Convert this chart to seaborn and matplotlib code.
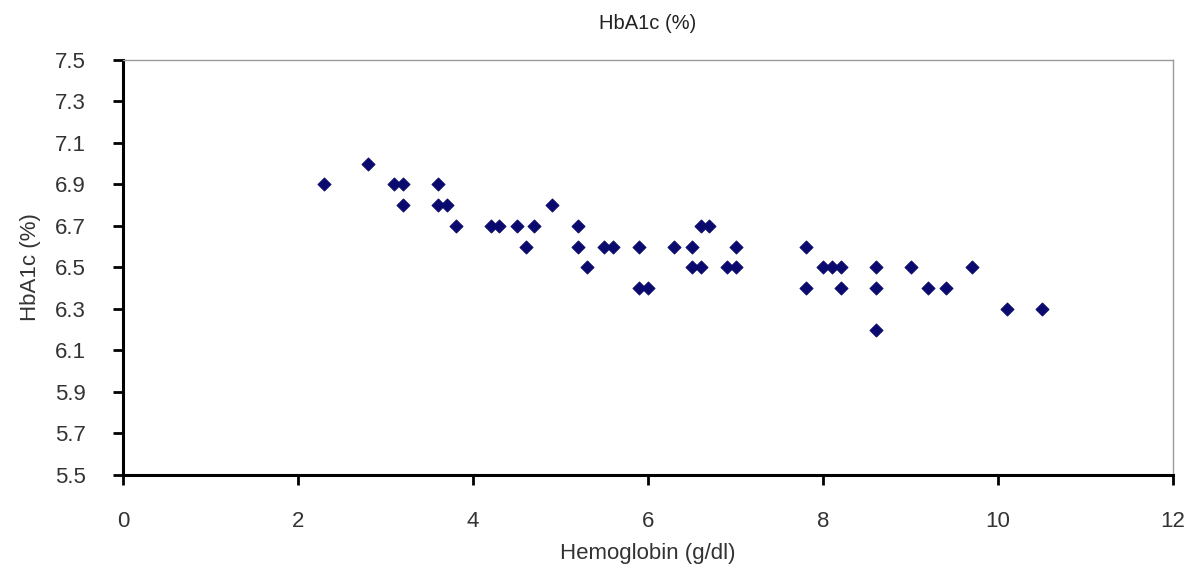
import matplotlib
matplotlib.use("Agg")
import matplotlib.pyplot as plt
import seaborn as sns
import pandas as pd

hemoglobin = [2.3, 2.8, 3.1, 3.2, 3.2, 3.6, 3.6, 3.7, 3.8, 4.2, 4.3, 4.5, 4.6, 4.7,
              4.9, 5.2, 5.2, 5.3, 5.5, 5.6, 5.9, 5.9, 6.0, 6.3, 6.5, 6.5, 6.6, 6.6,
              6.7, 6.9, 7.0, 7.0, 7.8, 7.8, 8.0, 8.1, 8.2, 8.2, 8.6, 8.6, 8.6, 9.0,
              9.2, 9.4, 9.7, 10.1, 10.5]
hba1c = [6.9, 7.0, 6.9, 6.9, 6.8, 6.9, 6.8, 6.8, 6.7, 6.7, 6.7, 6.7, 6.6, 6.7,
         6.8, 6.7, 6.6, 6.5, 6.6, 6.6, 6.6, 6.4, 6.4, 6.6, 6.6, 6.5, 6.5, 6.7,
         6.7, 6.5, 6.5, 6.6, 6.6, 6.4, 6.5, 6.5, 6.5, 6.4, 6.5, 6.4, 6.2, 6.5,
         6.4, 6.4, 6.5, 6.3, 6.3]
x_ticks = [0, 2, 4, 6, 8, 10, 12]
y_ticks = [5.5, 5.7, 5.9, 6.1, 6.3, 6.5, 6.7, 6.9, 7.1, 7.3, 7.5]

df = pd.DataFrame({"Hemoglobin": hemoglobin, "HbA1c": hba1c})

sns.set_style("white")
plt.rcParams["font.family"] = ["Liberation Sans", "DejaVu Sans"]

fig = plt.figure(figsize=(11.97, 5.66), dpi=100)
ax = fig.add_axes([0.1028, 0.1608, 0.8772, 0.7332])

sns.scatterplot(data=df, x="Hemoglobin", y="HbA1c", ax=ax, marker="D",
                s=45, color="#0a0a6e", edgecolor="#0a0a6e", linewidth=0.6)

ax.set_xlim(0, 12)
ax.set_ylim(5.5, 7.5)
ax.set_xticks(x_ticks)
ax.set_yticks(y_ticks)
ax.set_xticklabels([str(t) for t in x_ticks])
ax.set_yticklabels([f"{t:.1f}" for t in y_ticks])

for side in ["left", "bottom"]:
    ax.spines[side].set_color("black")
    ax.spines[side].set_linewidth(2.2)
for side in ["top", "right"]:
    ax.spines[side].set_visible(True)
    ax.spines[side].set_color("#9a9a9a")
    ax.spines[side].set_linewidth(1.0)

ax.tick_params(axis="both", which="major", direction="out", length=7, width=2,
               color="black", labelsize=16, labelcolor="#333333",
               left=True, bottom=True)
ax.tick_params(axis="x", pad=19)
ax.tick_params(axis="y", pad=20)

ax.set_xlabel("Hemoglobin (g/dl)", fontsize=16, color="#333333", labelpad=8)
ax.set_ylabel("HbA1c (%)", fontsize=16, color="#333333", labelpad=10)
ax.set_title("HbA1c (%)", fontsize=14.5, color="#222222", pad=22)

fig.savefig("out.png", dpi=100)
